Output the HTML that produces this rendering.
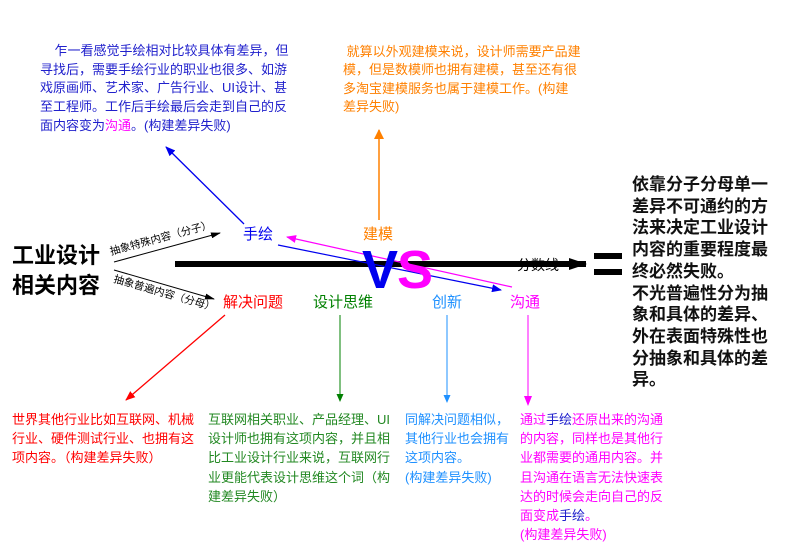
<!DOCTYPE html>
<html><head><meta charset="utf-8"><style>
body{margin:0;width:785px;height:555px;background:#fff;position:relative;overflow:hidden;font-family:"Liberation Sans","Noto Sans CJK SC",sans-serif}
.t{position:absolute;font-size:13px;line-height:19.2px;white-space:nowrap}
.l{position:absolute;font-size:15px;white-space:nowrap}
</style></head><body>
<svg width="785" height="555" style="position:absolute;left:0;top:0">
<defs>
<marker id="ab" markerWidth="10" markerHeight="8" refX="9" refY="4" orient="auto" markerUnits="userSpaceOnUse"><path d="M0,0L10,4L0,8z" fill="#0000ee"/></marker>
<marker id="am" markerWidth="10" markerHeight="8" refX="9" refY="4" orient="auto" markerUnits="userSpaceOnUse"><path d="M0,0L10,4L0,8z" fill="#ff00ff"/></marker>
<marker id="ao" markerWidth="10" markerHeight="10" refX="9" refY="5" orient="auto" markerUnits="userSpaceOnUse"><path d="M0,0L10,5L0,10z" fill="#ff8000"/></marker>
<marker id="ar" markerWidth="10" markerHeight="8" refX="9" refY="4" orient="auto" markerUnits="userSpaceOnUse"><path d="M0,0L10,4L0,8z" fill="#ff0000"/></marker>
<marker id="ag" markerWidth="8" markerHeight="7" refX="7" refY="3.5" orient="auto" markerUnits="userSpaceOnUse"><path d="M0,0L8,3.5L0,7z" fill="#008000"/></marker>
<marker id="al" markerWidth="8" markerHeight="7" refX="7" refY="3.5" orient="auto" markerUnits="userSpaceOnUse"><path d="M0,0L8,3.5L0,7z" fill="#1e90ff"/></marker>
<marker id="ak" markerWidth="10" markerHeight="6" refX="9" refY="3" orient="auto" markerUnits="userSpaceOnUse"><path d="M0,0L10,3L0,6z" fill="#000"/></marker>
<marker id="aK" markerWidth="18" markerHeight="12" refX="17" refY="6" orient="auto" markerUnits="userSpaceOnUse"><path d="M0,0L18,6L0,12z" fill="#000"/></marker>
</defs>
<line x1="175" y1="264" x2="586" y2="264" stroke="#000" stroke-width="6" marker-end="url(#aK)"/>
<rect x="594" y="253" width="28" height="6" fill="#000"/>
<rect x="594" y="269" width="28" height="6" fill="#000"/>
<line x1="114" y1="262" x2="220" y2="233" stroke="#000" stroke-width="1" marker-end="url(#ak)"/>
<line x1="114" y1="270" x2="214" y2="299" stroke="#000" stroke-width="1" marker-end="url(#ak)"/>
<line x1="244" y1="224" x2="166" y2="147" stroke="#0000ee" stroke-width="1.3" marker-end="url(#ab)"/>
<line x1="278" y1="245" x2="501" y2="290" stroke="#0000ee" stroke-width="1.2" marker-end="url(#ab)"/>
<line x1="512" y1="287" x2="287" y2="237" stroke="#ff00ff" stroke-width="1.2" marker-end="url(#am)"/>
<line x1="379" y1="220" x2="379" y2="130" stroke="#ff8000" stroke-width="1.5" marker-end="url(#ao)"/>
<line x1="225" y1="315" x2="126" y2="400" stroke="#ff0000" stroke-width="1.3" marker-end="url(#ar)"/>
<line x1="340" y1="315" x2="340" y2="401" stroke="#008000" stroke-width="1" marker-end="url(#ag)"/>
<line x1="447" y1="315" x2="447" y2="402" stroke="#1e90ff" stroke-width="1" marker-end="url(#al)"/>
<line x1="528" y1="315" x2="528" y2="405" stroke="#ff00ff" stroke-width="1" marker-end="url(#am)"/>
<text x="111" y="255" font-size="10.5" transform="rotate(-15 111 255)" font-family="Liberation Sans,Noto Sans CJK SC,sans-serif">抽象特殊内容（分子）</text>
<text x="113" y="282" font-size="10.5" transform="rotate(16 113 282)" font-family="Liberation Sans,Noto Sans CJK SC,sans-serif">抽象普遍内容（分母）</text>
<text x="362" y="288" font-size="54" font-weight="bold" fill="#0000ee" font-family="Liberation Sans,sans-serif">V</text>
<text x="397" y="288" font-size="54" font-weight="bold" fill="#ff00ff" font-family="Liberation Sans,sans-serif">S</text>
<text x="517" y="270" font-size="14" font-family="Liberation Sans,Noto Sans CJK SC,sans-serif">分数线</text>
</svg>
<div style="position:absolute;left:12px;top:241px;font-size:22px;line-height:30px;font-weight:bold">工业设计<br>相关内容</div>
<div class="l" style="left:243px;top:223px;color:#0000ee">手绘</div>
<div class="l" style="left:363px;top:223px;color:#ff8000">建模</div>
<div class="l" style="left:223px;top:291px;color:#ff0000">解决问题</div>
<div class="l" style="left:313px;top:291px;color:#008000">设计思维</div>
<div class="l" style="left:432px;top:291px;color:#1e90ff">创新</div>
<div class="l" style="left:510px;top:291px;color:#ff00ff">沟通</div>
<div class="t" style="left:40px;top:42px;color:#2020cc;line-height:18.7px">&nbsp;&nbsp;&nbsp;&nbsp;乍一看感觉手绘相对比较具体有差异，但<br>寻找后，需要手绘行业的职业也很多、如游<br>戏原画师、艺术家、广告行业、UI设计、甚<br>至工程师。工作后手绘最后会走到自己的反<br>面内容变为<span style="color:#ff00ff">沟通</span>。(构建差异失败)</div>
<div class="t" style="left:343px;top:43px;color:#ff8000;line-height:18.4px">&nbsp;就算以外观建模来说，设计师需要产品建<br>模，但是数模师也拥有建模，甚至还有很<br>多淘宝建模服务也属于建模工作。(构建<br>差异失败)</div>
<div style="position:absolute;left:632px;top:174px;font-size:17px;line-height:21.7px;font-weight:bold;color:#111">依靠分子分母单一<br>差异不可通约的方<br>法来决定工业设计<br>内容的重要程度最<br>终必然失败。<br>不光普遍性分为抽<br>象和具体的差异、<br>外在表面特殊性也<br>分抽象和具体的差<br>异。</div>
<div class="t" style="left:12px;top:410px;color:#ff0000">世界其他行业比如互联网、机械<br>行业、硬件测试行业、也拥有这<br>项内容。（构建差异失败）</div>
<div class="t" style="left:208px;top:410px;color:#228822">互联网相关职业、产品经理、UI<br>设计师也拥有这项内容，并且相<br>比工业设计行业来说，互联网行<br>业更能代表设计思维这个词（构<br>建差异失败）</div>
<div class="t" style="left:405px;top:410px;color:#1e90ff">同解决问题相似，<br>其他行业也会拥有<br>这项内容。<br>(构建差异失败)</div>
<div class="t" style="left:520px;top:410px;color:#ff00ff">通过<span style="color:#2020cc">手绘</span>还原出来的沟通<br>的内容，同样也是其他行<br>业都需要的通用内容。并<br>且沟通在语言无法快速表<br>达的时候会走向自己的反<br>面变成<span style="color:#2020cc">手绘</span>。<br>(构建差异失败)</div>
</body></html>
